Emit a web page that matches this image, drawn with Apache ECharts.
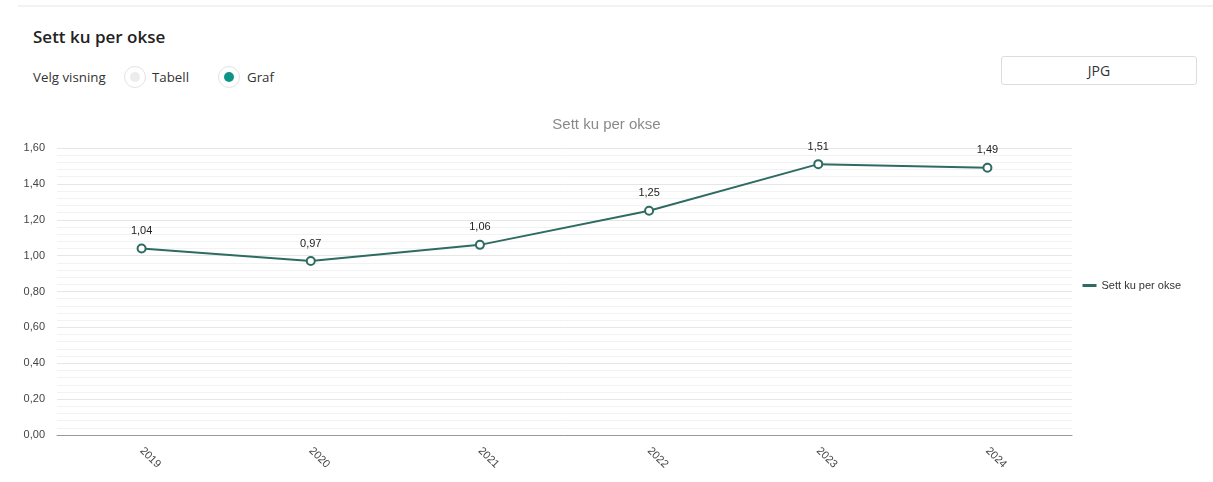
<!DOCTYPE html>
<html><head><meta charset="utf-8">
<script src="https://cdn.jsdelivr.net/npm/echarts@6/dist/echarts.min.js"></script>
<style>
html,body{margin:0;padding:0;background:#fff;width:1213px;height:482px;overflow:hidden;font-family:"Open Sans",sans-serif;}
#topline{position:absolute;left:18px;right:0;top:5px;height:2px;background:#f2f2f2;}
#h{position:absolute;left:33px;top:25px;font-size:17px;font-weight:600;color:#222;margin:0;}
#velg{position:absolute;left:33px;top:68px;font-size:13.3px;color:#333;}
.radio{position:absolute;top:66px;width:22px;height:22px;border-radius:50%;border:1px solid #e3e3e3;box-sizing:border-box;background:#fff;}
.radio i{position:absolute;left:5px;top:5px;width:10px;height:10px;border-radius:50%;}
.rl{position:absolute;top:68px;font-size:13.3px;color:#333;}
#jpg{position:absolute;left:1001px;top:56px;width:196px;height:29px;box-sizing:border-box;border:1px solid #ddd;border-radius:3px;text-align:center;line-height:27px;font-size:14px;color:#333;}
#chart{position:absolute;left:0;top:100px;width:1213px;height:382px;}
</style></head>
<body>
<div id="topline"></div>
<div id="h">Sett ku per okse</div>
<div id="velg">Velg visning</div>
<div class="radio" style="left:124px"><i style="background:#ececec"></i></div>
<div class="rl" style="left:152px">Tabell</div>
<div class="radio" style="left:218px"><i style="background:#0f9488"></i></div>
<div class="rl" style="left:247px">Graf</div>
<div id="jpg">JPG</div>
<div id="chart"></div>
<script>
const chartTitle = "Sett ku per okse";
const seriesName = "Sett ku per okse";
const years = ["2019","2020","2021","2022","2023","2024"];
const values = [1.04, 0.97, 1.06, 1.25, 1.51, 1.49];
const yMin = 0, yMax = 1.6, yStep = 0.2;

const fmt = v => v.toFixed(2).replace('.', ',');
const chart = echarts.init(document.getElementById('chart'), null, {renderer:'canvas'});
chart.setOption({
  animation:false,
  textStyle:{fontFamily:'"Liberation Sans", Arial, sans-serif'},
  title:{text:chartTitle,left:'center',top:12,textStyle:{fontSize:15,fontWeight:'normal',color:'#8a8a8a',fontFamily:'"Liberation Sans", Arial, sans-serif'}},
  legend:{orient:'vertical',right:27,top:175,itemWidth:14,itemHeight:3,icon:'rect',itemGap:6,
    itemStyle:{color:'#2e6b62',borderWidth:0},
    textStyle:{fontSize:11,color:'#333'},data:[seriesName]},
  grid:{left:57,right:141,top:48,bottom:47},
  xAxis:{type:'category',data:years,boundaryGap:true,
    axisLine:{lineStyle:{color:'#999'}},axisTick:{lineStyle:{color:'#999'},length:5},
    axisLabel:{rotate:-45,color:'#444',fontSize:11,margin:14}},
  yAxis:{type:'value',min:yMin,max:yMax,interval:yStep,
    axisLabel:{formatter:fmt,color:'#444',fontSize:11,margin:12},
    axisLine:{show:false},axisTick:{show:false},
    splitLine:{lineStyle:{color:'#e6e6e6',width:1}},
    minorTick:{show:false,splitNumber:5},
    minorSplitLine:{show:true,lineStyle:{color:'#f2f2f2',width:1}}},
  series:[{name:seriesName,type:'line',data:values,color:'#2e6b62',
    lineStyle:{width:2,color:'#2e6b62'},symbol:'circle',symbolSize:8,
    itemStyle:{color:'#fff',borderColor:'#2e6b62',borderWidth:2},
    label:{show:true,position:'top',distance:7,formatter:p=>fmt(p.value),fontSize:11,color:'#222'}}]
});
</script>
</body></html>
